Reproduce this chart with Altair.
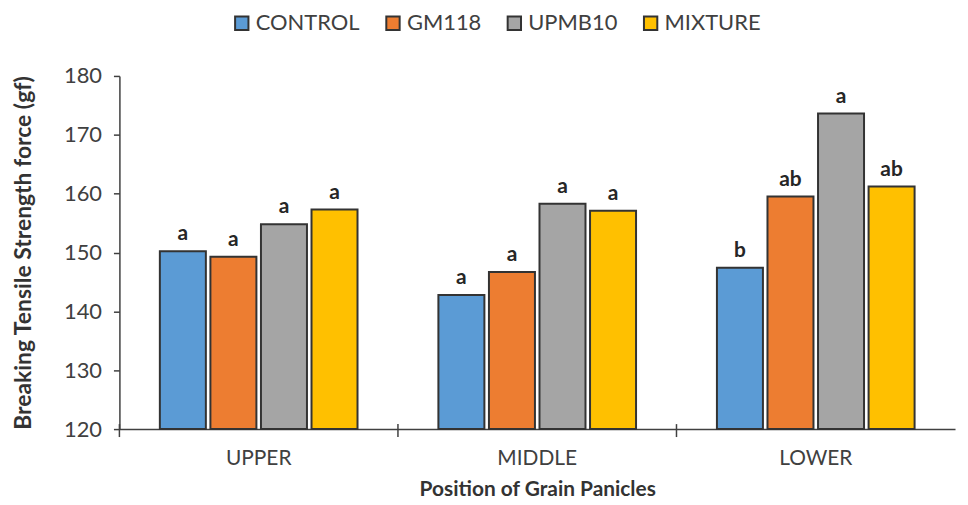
import altair as alt
import pandas as pd

positions = ["UPPER", "MIDDLE", "LOWER"]
treatments = ["CONTROL", "GM118", "UPMB10", "MIXTURE"]
control = [150.2, 142.8, 147.4]
gm118 = [149.3, 146.7, 159.5]
upmb10 = [154.8, 158.3, 173.6]
mixture = [157.3, 157.1, 161.2]
letters_control = ["a", "a", "b"]
letters_gm118 = ["a", "a", "ab"]
letters_upmb10 = ["a", "a", "a"]
letters_mixture = ["a", "a", "ab"]
colors = ["#5B9BD5", "#ED7D31", "#A5A5A5", "#FFC000"]
y_ticks = [120, 130, 140, 150, 160, 170, 180]

series = [control, gm118, upmb10, mixture]
letters = [letters_control, letters_gm118, letters_upmb10, letters_mixture]
rows = []
for t, vals, lets in zip(treatments, series, letters):
    for p, v, l in zip(positions, vals, lets):
        rows.append({"Position": p, "Treatment": t, "Value": v, "Letter": l})
df = pd.DataFrame(rows)
tick_df = pd.DataFrame({"Position": positions})

FONT = "Lato"
TXT = "#404040"

x_enc = alt.X(
    "Position:N",
    sort=positions,
    scale=alt.Scale(paddingInner=0, paddingOuter=0),
    axis=alt.Axis(
        title="Position of Grain Panicles",
        labelAngle=0,
        ticks=False,
        labelPadding=19,
        labelFontSize=21,
        titleFontSize=21,
        titleFontWeight="bold",
        titlePadding=10,
    ),
)
xoff = alt.XOffset(
    "Treatment:N",
    sort=treatments,
    scale=alt.Scale(paddingInner=0.09, paddingOuter=0.8),
)
y_enc = alt.Y(
    "Value:Q",
    scale=alt.Scale(domain=[120, 180], zero=False, nice=False),
    axis=alt.Axis(
        values=y_ticks,
        grid=False,
        title="Breaking Tensile Strength  force (gf)",
        tickSize=6,
        labelPadding=12,
        labelFontSize=22,
        titleFontSize=23,
        titleFontWeight="bold",
        titlePadding=28,
    ),
)

bars = alt.Chart(df).mark_bar(stroke="#333333", strokeWidth=2).encode(
    x=x_enc,
    xOffset=xoff,
    y=y_enc,
    y2=alt.datum(120),
    color=alt.Color(
        "Treatment:N",
        sort=treatments,
        scale=alt.Scale(domain=treatments, range=colors),
        legend=alt.Legend(
            orient="none",
            legendX=112,
            legendY=-64,
            direction="horizontal",
            title=None,
            symbolType="square",
            symbolSize=180,
            symbolStrokeColor="#333333",
            symbolStrokeWidth=2,
            labelFontSize=22,
            labelFont=FONT,
            labelColor=TXT,
            columnPadding=22,
            labelOffset=3,
        ),
    ),
)

labels = alt.Chart(df).mark_text(
    dy=-17, fontWeight="bold", fontSize=21, font=FONT, color="#262626"
).encode(
    x=x_enc,
    xOffset=xoff,
    y=alt.Y("Value:Q"),
    text="Letter:N",
)

ticks = alt.Chart(tick_df).mark_rule(color=TXT, strokeWidth=1.5).encode(
    x=alt.X("Position:N", sort=positions, bandPosition=0),
    y=alt.value(350),
    y2=alt.value(363),
)

chart = (
    alt.layer(bars, labels, ticks)
    .properties(
        width=840,
        height=355,
        autosize=alt.AutoSizeParams(type="none"),
        padding={"left": 112, "top": 67, "right": 5, "bottom": 72},
        background="white",
    )
    .configure_view(stroke=None)
    .configure_axis(
        labelFont=FONT,
        titleFont=FONT,
        labelColor=TXT,
        titleColor="#333333",
        domainColor=TXT,
        domainWidth=1.5,
        tickColor=TXT,
        tickWidth=1.5,
    )
)

chart.save("out.html", embed_options={"renderer": "svg", "actions": False})
